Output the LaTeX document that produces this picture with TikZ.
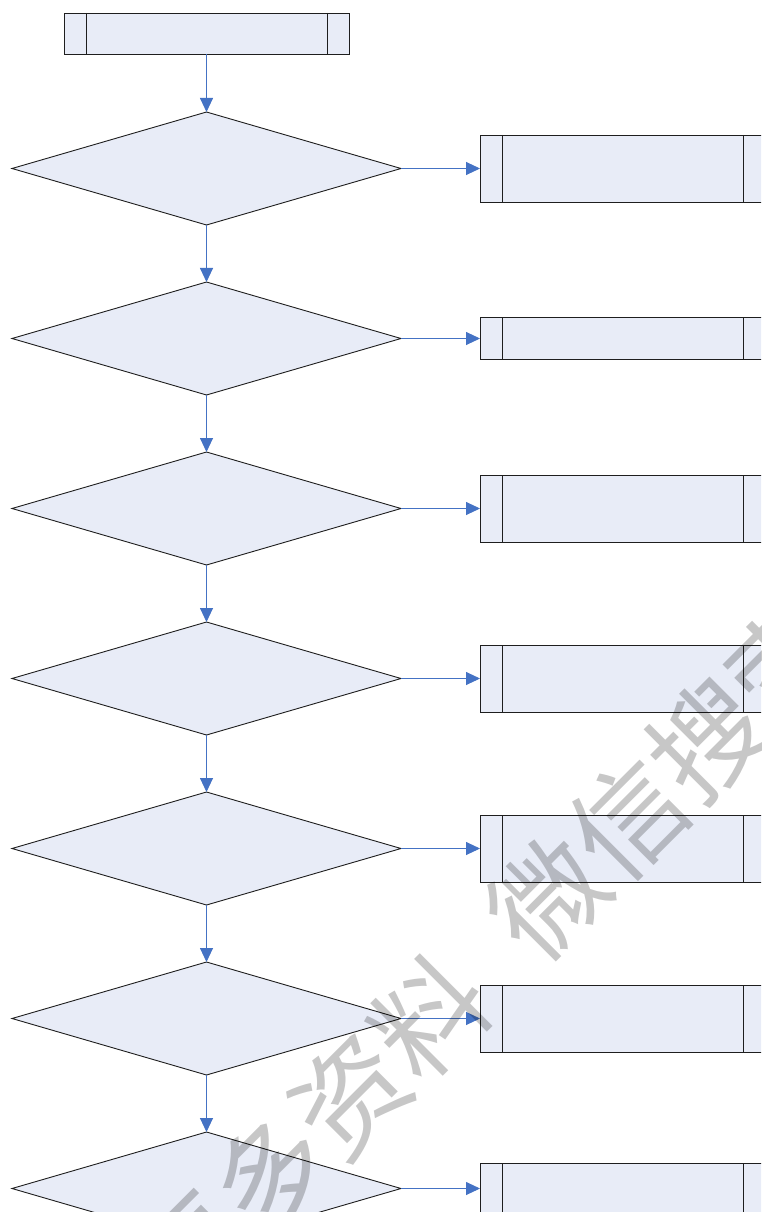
\documentclass[tikz,border=0pt]{standalone}
\usepackage{fontspec}
\newfontfamily\cjk{Noto Sans CJK SC}
\usetikzlibrary{shapes.geometric,arrows.meta}
\definecolor{boxfill}{HTML}{E8ECF7}
\definecolor{arrowblue}{HTML}{4472C4}
\definecolor{edgecol}{HTML}{1E1E1E}
\begin{document}
\begin{tikzpicture}[x=1pt,y=-1pt,
  decbox/.style={shape=diamond, draw=edgecol, fill=boxfill, line width=0.9pt,
    minimum width=389pt, minimum height=113pt, inner sep=0pt, outer sep=0pt},
  subbox/.style={draw=edgecol, fill=boxfill, line width=0.9pt, minimum width=285pt,
    inner sep=0pt, outer sep=0pt,
    path picture={
      \draw[edgecol, line width=0.9pt]
        ([xshift=22.5pt]path picture bounding box.north west) -- ([xshift=22.5pt]path picture bounding box.south west)
        ([xshift=-22pt]path picture bounding box.north east) -- ([xshift=-22pt]path picture bounding box.south east);}},
  flow/.style={draw=arrowblue, line width=0.9pt, -{Triangle[length=14pt,width=13pt]}}]
\path[use as bounding box, clip] (0,0) rectangle (761,1212);
\fill[white] (0,0) rectangle (761,1212);

\node[subbox, minimum height=41pt] (top) at (206.5,33.5) {};
\foreach \i in {1,...,7} {
  \node[decbox] (d\i) at (206.5,{168.5+170*(\i-1)}) {};
}
\node[subbox, minimum height=67pt] (b1) at (622.5,168.5) {};
\node[subbox, minimum height=42pt] (b2) at (622.5,338) {};
\node[subbox, minimum height=67pt] (b3) at (622.5,508.5) {};
\node[subbox, minimum height=67pt] (b4) at (622.5,678.5) {};
\node[subbox, minimum height=67pt] (b5) at (622.5,848.5) {};
\node[subbox, minimum height=67pt] (b6) at (622.5,1018.5) {};
\node[subbox, minimum height=67pt] (b7) at (622.5,1196.5) {};

\draw[flow] (top) -- (d1);
\foreach \i/\j in {1/2,2/3,3/4,4/5,5/6,6/7} {
  \draw[flow] (d\i) -- (d\j);
}
\foreach \i in {1,...,7} {
  \draw[flow] (d\i.east) -- (d\i.east -| b\i.west);
}

\node[text=black, text opacity=0.22, rotate=45, inner sep=0pt,
  font=\cjk\fontsize{112}{112}\selectfont] (wm) at (489,957.5)
  {更多资料\hspace{56pt}微信搜索};
\end{tikzpicture}
\end{document}
